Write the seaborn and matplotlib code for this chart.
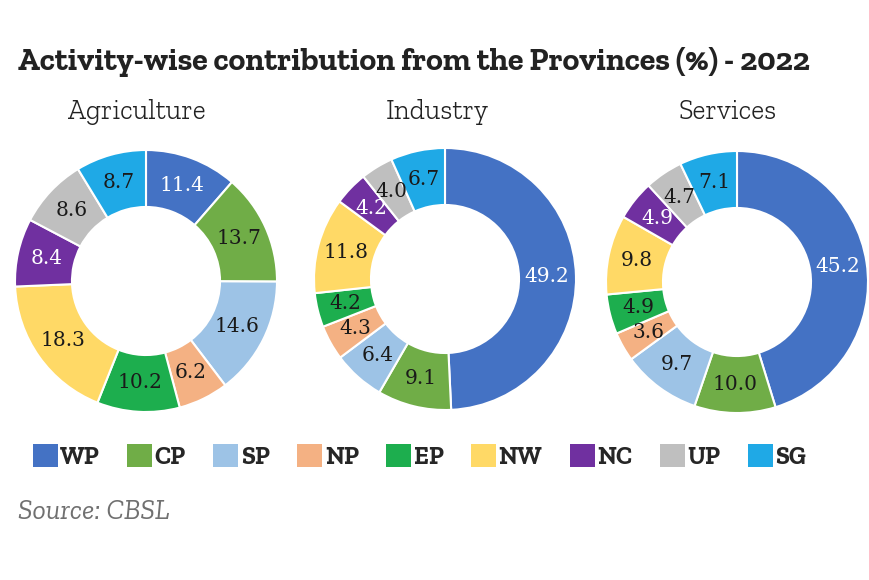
import numpy as np
import matplotlib
matplotlib.use("Agg")
import matplotlib.pyplot as plt
from matplotlib.patches import Patch
import seaborn as sns

# data
provinces = ['WP', 'CP', 'SP', 'NP', 'EP', 'NW', 'NC', 'UP', 'SG']
colors = ['#4472C4', '#70AD47', '#9DC3E6', '#F4B183', '#1DAE4E',
          '#FFD966', '#7030A0', '#BFBFBF', '#1FA9E6']
activities = ['Agriculture', 'Industry', 'Services']
agriculture = [11.4, 13.7, 14.6, 6.2, 10.2, 18.3, 8.4, 8.6, 8.7]
industry = [49.2, 9.1, 6.4, 4.3, 4.2, 11.8, 4.2, 4.0, 6.7]
services = [45.2, 10.0, 9.7, 3.6, 4.9, 9.8, 4.9, 4.7, 7.1]
white_labels = ['WP', 'NC']

sns.set_theme(style='white')
plt.rcParams['font.family'] = ['Zilla Slab', 'DejaVu Serif']
num_font = ['DejaVu Serif']

W, H = 870, 580
fig = plt.figure(figsize=(W / 100, H / 100), dpi=100)
fig.patch.set_facecolor('white')

fig.text(18 / W, 1 - 62 / H, 'Activity-wise contribution from the Provinces (%) - 2022',
         fontsize=23, fontweight='bold', color='#222222', va='center', ha='left')

centers = [(146, 281), (445, 279), (737, 282)]
R = 131
for name, vals, (cx, cy), tx in zip(activities, [agriculture, industry, services],
                                    centers, [137, 437, 728]):
    ax = fig.add_axes([(cx - R) / W, (H - cy - R) / H, 2 * R / W, 2 * R / H])
    wedges, _ = ax.pie(vals, colors=colors, startangle=90, counterclock=False,
                       wedgeprops=dict(width=0.435, edgecolor='white', linewidth=1.5))
    ax.set_xlim(-1, 1)
    ax.set_ylim(-1, 1)
    ax.axis('off')
    for w, v, p in zip(wedges, vals, provinces):
        ang = np.deg2rad((w.theta1 + w.theta2) / 2)
        r = 0.78
        ax.text(r * np.cos(ang), r * np.sin(ang), f'{v:.1f}', ha='center', va='center',
                fontsize=14.5, family=num_font,
                color='white' if p in white_labels else '#1a1a1a')
    fig.text(tx / W, 1 - 112 / H, name, ha='center', va='center',
             fontsize=20, fontweight='light', color='#222222')

handles = [Patch(facecolor=c, edgecolor='none', label=p) for p, c in zip(provinces, colors)]
fig.legend(handles=handles, loc='center left', bbox_to_anchor=(10 / W, 1 - 457 / H),
           ncol=9, frameon=False, handlelength=1.0, handleheight=1.0,
           handletextpad=0.1, columnspacing=1.1,
           prop={'weight': 'bold', 'size': 18})

fig.text(18 / W, 1 - 512 / H, 'Source: CBSL', fontsize=20, style='italic',
         color='#707070', va='center', ha='left')

fig.savefig('out.png', dpi=100, facecolor='white')
